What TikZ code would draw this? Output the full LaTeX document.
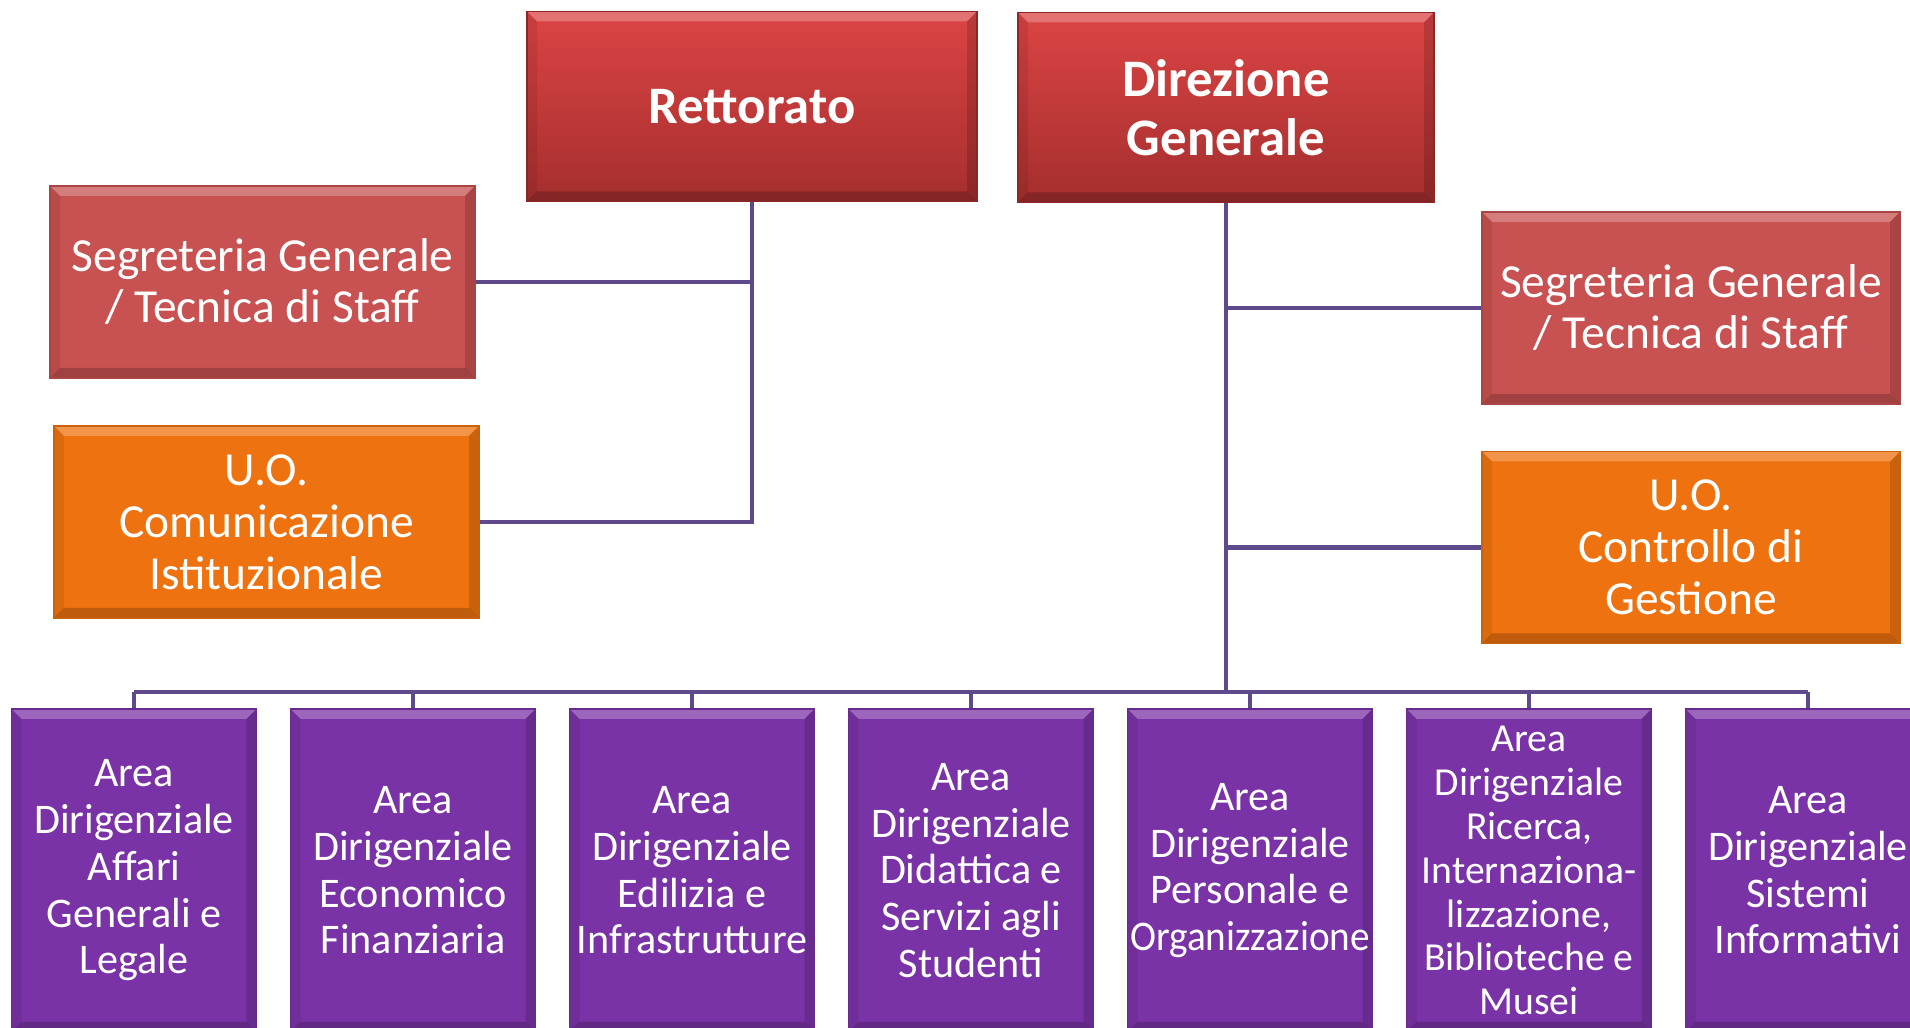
\documentclass[tikz,border=0pt]{standalone}
\usepackage{fontspec}
\setmainfont{Carlito}
\definecolor{headtop}{HTML}{DC4444}
\definecolor{headbot}{HTML}{A52E2E}
\definecolor{staffc}{HTML}{C85151}
\definecolor{unitc}{HTML}{EE720F}
\definecolor{areac}{HTML}{7A33A6}
\definecolor{linkc}{HTML}{5E4A8A}
\tikzset{bevel/.style={path picture={
      \path (path picture bounding box.north west) coordinate (pnw)
            (path picture bounding box.south east) coordinate (pse);
      \fill[white,opacity=.25] (pnw) -- (pnw -| pse) -- ++(-.1,-.1)
           -- ([shift={(.1,-.1)}]pnw) -- cycle;
      \fill[black,opacity=.2] (pse) -- (pse -| pnw) -- ++(.1,.1)
           -- ([shift={(-.1,.1)}]pse) -- cycle;
      \fill[black,opacity=.08] (pnw) -- (pse -| pnw) -- ++(.1,.1)
           -- ([shift={(.1,-.1)}]pnw) -- cycle;
      \fill[black,opacity=.15] (pse) -- (pnw -| pse) -- ++(-.1,-.1)
           -- ([shift={(-.1,.1)}]pse) -- cycle;}}}
\begin{document}
\begin{tikzpicture}[box/.style={draw=#1!85!black,fill=#1,text=white,
          align=center,inner sep=0pt,line width=.5pt,bevel},
        head/.style={box=headbot,top color=headtop,bottom color=headbot,
          minimum height=1.9cm,font=\bfseries\fontsize{15}{16.8}\selectfont},
        staff/.style={box=staffc,minimum height=1.92cm,
          font=\fontsize{13.5}{14.5}\selectfont},
        unit/.style={box=unitc,minimum height=1.92cm,
          font=\fontsize{13.5}{14.8}\selectfont},
        area/.style={box=areac,minimum width=2.45cm,minimum height=3.23cm,
          font=\fontsize{12}{13.3}\selectfont},
        link/.style={draw=linkc,line width=1.2pt}]
      \useasboundingbox (0,0) rectangle (19.1,10.28);
      \clip (0,0) rectangle (19.1,10.28);
      \node[head,minimum width=4.5cm] (ret) at (7.52,9.215) {Rettorato};
      \node[head,minimum width=4.16cm] (dg) at (12.26,9.205)
           {Direzione\\Generale};
      \node[staff,minimum width=4.25cm] (segl) at (2.625,7.46)
           {Segreteria Generale\\/ Tecnica di Staff};
      \node[unit,minimum width=4.25cm] (uoc) at (2.665,5.06)
           {U.O.\\Comunicazione\\Istituzionale};
      \node[staff,minimum width=4.18cm] (segr) at (16.91,7.20)
           {Segreteria Generale\\/ Tecnica di Staff};
      \node[unit,minimum width=4.18cm] (uog) at (16.91,4.805)
           {U.O.\\Controllo di\\Gestione};
      \node[area] (a1) at (1.34,1.575) {Area\\Dirigenziale\\Affari\\Generali e\\Legale};
      \node[area] (a2) at (4.13,1.575) {Area\\Dirigenziale\\Economico\\Finanziaria};
      \node[area] (a3) at (6.92,1.575) {Area\\Dirigenziale\\Edilizia e\\Infrastrutture};
      \node[area] (a4) at (9.71,1.575) {Area\\Dirigenziale\\Didattica e\\Servizi agli\\Studenti};
      \node[area] (a5) at (12.50,1.575)
           {Area\\Dirigenziale\\Personale e\\\scalebox{.93}[1]{Organizzazione}};
      \node[area,font=\fontsize{11.3}{12.5}\selectfont] (a6) at (15.29,1.575)
           {Area\\Dirigenziale\\Ricerca,\\Internaziona-\\lizzazione,\\Biblioteche e\\Musei};
      \node[area] (a7) at (18.08,1.575) {Area\\Dirigenziale\\Sistemi\\Informativi};
      \coordinate (bus) at (12.26,3.36);
      \draw[link] (ret.south) |- (uoc.east);
      \draw[link] (segl.east) -- (segl.east -| ret.south);
      \draw[link] (dg.south) -- (bus);
      \draw[link] (segr.west) -- (segr.west -| dg.south);
      \draw[link] (uog.west) -- (uog.west -| dg.south);
      \draw[link] (a1.north |- bus) -- (a7.north |- bus);
      \foreach \i in {1,...,7}
        \draw[link] (a\i.north) -- (a\i.north |- bus);
  \end{tikzpicture}
\end{document}
